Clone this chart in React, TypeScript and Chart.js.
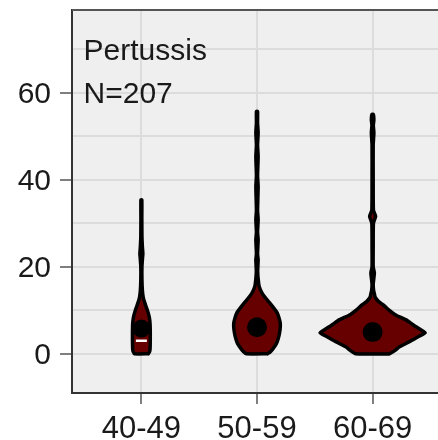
import { useEffect, useRef } from 'react';
import { Chart, registerables } from 'chart.js';

Chart.register(...registerables);

// Groups on the x axis and the y axis labelling
const ageGroups = ['40-49', '50-59', '60-69'];
const yTickValues = [0, 20, 40, 60];
const yGridValues = [0, 10, 20, 30, 40, 50, 60, 70];

// Panel annotation (placed at x = 0.5, y = 70 / 60 in data units)
const annotationLines = ['Pertussis', 'N=207'];
const annotationY = [70, 60];

// Violin outlines: value levels (bottom to top) and the density half-width
// at each level, measured in group spacings.
const levels4049 = [0, 0.5, 1, 3, 5, 7, 8.5, 10, 11, 12, 13, 14.5, 17, 20, 22, 23, 24.5, 27, 31, 35.4];
const halfWidth4049 = [0.06, 0.071, 0.075, 0.077, 0.077, 0.075, 0.068, 0.052, 0.039, 0.026, 0.016, 0.009, 0.005, 0.005, 0.01, 0.013, 0.009, 0.005, 0.004, 0.004];

const levels5059 = [0, 0.5, 1, 2.4, 3.5, 4.8, 6, 7.1, 8.3, 9.4, 10.9, 12.4, 13.9, 15.5, 17, 19, 21.6, 23, 26.2, 28, 30.8, 33, 38.4, 41, 45.3, 48, 50.8, 53, 55.7];
const halfWidth5059 = [0.091, 0.117, 0.134, 0.169, 0.184, 0.195, 0.201, 0.201, 0.19, 0.175, 0.134, 0.088, 0.045, 0.019, 0.011, 0.006, 0.01, 0.005, 0.01, 0.005, 0.01, 0.005, 0.01, 0.005, 0.01, 0.005, 0.01, 0.005, 0.005];

const levels6069 = [0, 0.8, 1.6, 2.8, 4.0, 4.85, 5.7, 6.8, 7.8, 9.0, 10.2, 11.2, 12, 13, 13.6, 14.5, 16, 18.6, 20, 24, 30, 31.6, 33, 40, 48, 50.8, 52.5, 53.8, 55];
const halfWidth6069 = [0.147, 0.195, 0.232, 0.319, 0.398, 0.455, 0.407, 0.342, 0.29, 0.195, 0.134, 0.095, 0.052, 0.022, 0.017, 0.009, 0.005, 0.015, 0.005, 0.005, 0.007, 0.026, 0.007, 0.005, 0.005, 0.011, 0.006, 0.011, 0.006];

const violinLevels = [levels4049, levels5059, levels6069];
const violinHalfWidths = [halfWidth4049, halfWidth5059, halfWidth6069];

// Medians per group, and the inner marker of the first group
const medians = [5.8, 6.1, 5.0];
const lowerMark4049 = 3.0;

const FONT = '"Liberation Sans", Arial, Helvetica, sans-serif';

function outline(center: number, levels: number[], widths: number[]) {
  const right = levels.map((y, i) => ({ x: center + widths[i], y }));
  const left = levels.map((y, i) => ({ x: center - widths[i], y })).reverse();
  return [...right, ...left, right[0]];
}

function noPadding(scale: any) {
  scale.paddingTop = 0;
  scale.paddingBottom = 0;
  scale.paddingLeft = 0;
  scale.paddingRight = 0;
}

const panelPlugin = {
  id: 'panelFrame',
  beforeDraw(chart: any) {
    const { ctx, chartArea: a } = chart;
    ctx.save();
    ctx.fillStyle = '#efefef';
    ctx.fillRect(a.left, a.top, a.right - a.left, a.bottom - a.top);
    ctx.restore();
  },
  afterDraw(chart: any) {
    const { ctx, chartArea: a, scales } = chart;
    ctx.save();
    ctx.strokeStyle = '#555555';
    ctx.lineWidth = 2;
    ctx.beginPath();
    ctx.moveTo(a.left, a.top);
    ctx.lineTo(a.right, a.top);
    ctx.stroke();
    ctx.fillStyle = '#1a1a1a';
    ctx.font = `30px ${FONT}`;
    ctx.textAlign = 'left';
    ctx.textBaseline = 'middle';
    annotationLines.forEach((line, i) => {
      ctx.fillText(line, scales.x.getPixelForValue(0.5), scales.y.getPixelForValue(annotationY[i]) + 2.5);
    });
    ctx.restore();
  },
};

export default function App() {
  const canvasRef = useRef<HTMLCanvasElement | null>(null);

  useEffect(() => {
    const canvas = canvasRef.current;
    if (!canvas) return;

    const violinSets = ageGroups.map((g, i) => ({
      label: g,
      data: outline(i + 1, violinLevels[i], violinHalfWidths[i]),
      showLine: true,
      fill: 'shape',
      backgroundColor: '#660000',
      borderColor: '#000000',
      borderWidth: 3.5,
      borderJoinStyle: 'round',
      borderCapStyle: 'round',
      tension: 0.15,
      pointRadius: 0,
      pointHoverRadius: 0,
      order: 3,
    }));

    const chart = new Chart(canvas, {
      type: 'scatter',
      data: {
        datasets: [
          {
            label: 'lower mark',
            data: [{ x: 1, y: lowerMark4049 }],
            pointStyle: 'line',
            pointRadius: 5.5,
            borderColor: '#ffffff',
            backgroundColor: '#ffffff',
            borderWidth: 2.5,
            order: 0,
          },
          {
            label: 'median',
            data: medians.map((m, i) => ({ x: i + 1, y: m })),
            pointRadius: [9, 10, 10],
            backgroundColor: '#000000',
            borderWidth: 0,
            order: 1,
          },
          ...violinSets,
        ] as any,
      },
      options: {
        animation: false,
        responsive: false,
        devicePixelRatio: 1,
        layout: { autoPadding: false, padding: { top: 10, left: 0, right: 0, bottom: 0 } },
        plugins: { legend: { display: false }, tooltip: { enabled: false } },
        scales: {
          x: {
            type: 'linear',
            min: 0.4,
            max: 3.6,
            afterBuildTicks: (scale: any) => {
              scale.ticks = ageGroups.map((_, i) => ({ value: i + 1 }));
            },
            afterFit: (scale: any) => {
              scale.height = 47;
              noPadding(scale);
            },
            ticks: {
              autoSkip: false,
              maxRotation: 0,
              padding: 7,
              color: '#1a1a1a',
              font: { family: FONT, size: 31 },
              callback: (v: any) => ageGroups[Math.round(Number(v)) - 1] ?? '',
            },
            grid: {
              color: '#dcdcdc',
              lineWidth: 2,
              tickColor: '#7f7f7f',
              tickLength: 11,
              tickWidth: 2,
            },
            border: { color: '#333333', width: 2 },
          },
          y: {
            type: 'linear',
            min: -9,
            max: 79,
            afterBuildTicks: (scale: any) => {
              scale.ticks = yGridValues.map((v) => ({ value: v }));
            },
            afterFit: (scale: any) => {
              scale.width = 72;
              noPadding(scale);
            },
            ticks: {
              autoSkip: false,
              padding: 9,
              labelOffset: 2,
              color: '#1a1a1a',
              font: { family: FONT, size: 30 },
              callback: (v: any) => (yTickValues.includes(Number(v)) ? String(v) : ''),
            },
            grid: {
              color: '#dcdcdc',
              lineWidth: 2,
              tickColor: (ctx: any) =>
                yTickValues.includes(ctx.tick?.value) ? '#7f7f7f' : 'rgba(0,0,0,0)',
              tickLength: 12,
              tickWidth: 2,
            },
            border: { color: '#333333', width: 2 },
          },
        },
      } as any,
      plugins: [panelPlugin],
    });

    return () => chart.destroy();
  }, []);

  return (
    <div
      style={{
        position: 'absolute',
        left: 0,
        top: 0,
        width: 438,
        height: 440,
        overflow: 'hidden',
        background: '#ffffff',
      }}
    >
      <canvas ref={canvasRef} width={442} height={440} style={{ display: 'block' }} />
    </div>
  );
}
